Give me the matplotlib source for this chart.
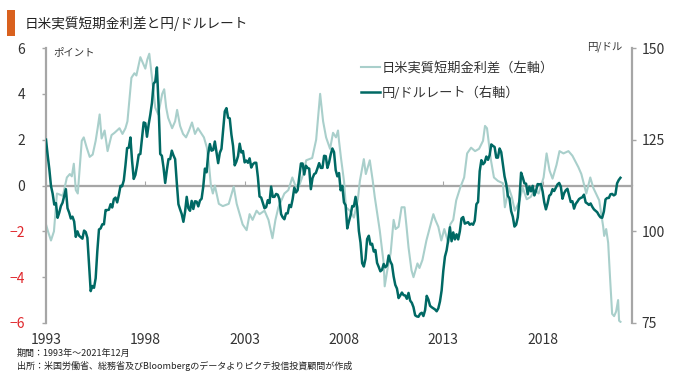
import numpy as np
import matplotlib
matplotlib.use("Agg")
import matplotlib.pyplot as plt
from matplotlib.patches import Rectangle

plt.rcParams['font.family'] = ['Noto Sans CJK JP', 'DejaVu Sans']

# ---------------- data ----------------
# USD/JPY monthly (Jan 1993 - Dec 2021), right axis
usdjpy = [
    125.0, 120.8, 117.0, 112.4, 110.3, 107.3, 107.7, 103.7, 105.1, 106.9, 107.8, 109.7,
    111.5, 106.3, 105.1, 103.5, 104.0, 102.7, 98.5, 100.0, 98.8, 98.4, 98.0, 100.2,
    99.8, 98.2, 90.8, 83.7, 85.1, 84.6, 87.2, 94.6, 100.5, 100.8, 101.9, 101.9,
    105.8, 105.8, 105.9, 107.4, 106.5, 108.8, 109.2, 107.9, 109.9, 112.4, 112.3, 113.9,
    118.0, 122.7, 122.8, 125.6, 119.2, 114.3, 115.4, 117.9, 120.9, 121.1, 125.4, 129.7,
    129.5, 125.8, 129.1, 131.8, 135.0, 140.3, 140.8, 144.7, 134.5, 121.1, 120.6, 117.4,
    113.2, 116.7, 119.7, 119.7, 122.0, 120.7, 119.7, 113.3, 107.4, 106.0, 104.7, 102.6,
    105.3, 109.4, 106.3, 105.6, 108.3, 106.1, 108.2, 108.1, 106.8, 108.4, 108.9, 112.2,
    117.1, 116.1, 121.2, 123.8, 122.0, 122.2, 124.5, 121.6, 118.6, 121.4, 122.5, 127.6,
    132.7, 133.6, 131.0, 130.8, 126.4, 123.3, 118.0, 119.0, 120.5, 123.9, 121.5, 121.9,
    118.8, 119.3, 118.7, 119.9, 117.4, 118.3, 118.7, 118.7, 114.8, 109.5, 109.2, 107.7,
    106.3, 106.6, 108.5, 107.7, 112.2, 109.4, 109.4, 110.2, 110.0, 108.8, 104.7, 103.8,
    103.3, 104.9, 104.9, 107.2, 106.6, 108.8, 111.9, 110.6, 111.2, 114.9, 118.5, 118.5,
    115.5, 117.9, 117.3, 117.1, 111.5, 114.5, 115.6, 115.9, 117.2, 118.6, 117.3, 117.3,
    120.6, 120.5, 117.3, 118.8, 121.0, 122.6, 121.6, 116.7, 115.0, 115.9, 111.2, 112.4,
    107.9, 107.1, 100.8, 102.7, 104.4, 106.9, 106.8, 109.4, 106.6, 100.1, 96.9, 91.3,
    90.4, 92.5, 97.9, 98.8, 96.4, 96.6, 94.5, 94.9, 91.4, 90.3, 89.1, 89.5,
    91.1, 90.2, 90.7, 93.4, 91.8, 90.9, 87.7, 85.4, 84.4, 81.8, 82.5, 83.3,
    82.6, 82.5, 81.6, 83.2, 81.1, 80.5, 79.3, 77.1, 76.8, 76.7, 77.5, 77.8,
    76.9, 78.5, 82.4, 81.4, 79.7, 79.3, 79.0, 78.7, 78.2, 79.0, 80.9, 83.9,
    89.2, 93.1, 94.8, 97.7, 101.1, 97.3, 99.7, 97.8, 99.2, 97.8, 100.0, 103.5,
    103.9, 102.1, 102.3, 102.5, 101.8, 102.1, 101.8, 102.9, 107.4, 108.0, 116.4, 119.4,
    118.3, 118.8, 120.4, 119.5, 120.8, 123.7, 123.3, 123.0, 120.1, 120.1, 122.6, 121.6,
    118.2, 115.0, 113.0, 109.7, 109.0, 105.5, 104.0, 101.3, 101.8, 103.8, 108.7, 116.0,
    114.7, 113.1, 113.0, 110.1, 112.2, 110.9, 112.4, 109.8, 111.0, 112.9, 112.8, 112.9,
    110.9, 107.9, 106.0, 107.6, 109.7, 110.1, 111.5, 111.0, 111.9, 112.8, 113.2, 112.2,
    108.9, 110.4, 111.2, 111.6, 109.8, 108.0, 108.2, 106.2, 107.5, 108.1, 108.8, 109.1,
    109.3, 110.0, 107.9, 107.6, 107.2, 107.6, 106.7, 106.0, 105.6, 105.2, 104.4, 103.8,
    103.7, 105.4, 108.7, 109.1, 109.1, 110.1, 110.2, 109.8, 110.1, 113.1, 114.0, 114.6,
]
usdjpy_start_year = 1993

spread_t = [
    1993.0, 1993.1, 1993.25, 1993.4, 1993.55, 1993.7, 1993.85, 1994.05, 1994.2, 1994.3,
    1994.4, 1994.5, 1994.6, 1994.8, 1994.9, 1995.05, 1995.2, 1995.35, 1995.5, 1995.6,
    1995.7, 1995.8, 1995.95, 1996.1, 1996.3, 1996.45, 1996.7, 1996.85, 1997.0, 1997.1,
    1997.3, 1997.45, 1997.55, 1997.75, 1997.85, 1998.0, 1998.1, 1998.2, 1998.35, 1998.5,
    1998.65, 1998.85, 1998.95, 1999.05, 1999.15, 1999.35, 1999.5, 1999.6, 1999.75, 1999.9,
    2000.05, 2000.2, 2000.35, 2000.5, 2000.65, 2000.8, 2000.95, 2001.1, 2001.2, 2001.3,
    2001.4, 2001.5, 2001.7, 2001.9, 2002.2, 2002.45, 2002.6, 2002.75, 2002.9, 2003.1,
    2003.25, 2003.4, 2003.6, 2003.75, 2004.0, 2004.2, 2004.4, 2004.55, 2004.7, 2005.0,
    2005.2, 2005.4, 2005.55, 2005.75, 2005.95, 2006.1, 2006.4, 2006.6, 2006.8, 2006.95,
    2007.1, 2007.3, 2007.45, 2007.6, 2007.7, 2007.75, 2007.85, 2008.0, 2008.1, 2008.3,
    2008.5, 2008.7, 2008.8, 2009.0, 2009.1, 2009.3, 2009.45, 2009.55, 2009.8, 2010.0,
    2010.05, 2010.2, 2010.35, 2010.5, 2010.6, 2010.75, 2010.9, 2011.05, 2011.15, 2011.25,
    2011.4, 2011.5, 2011.7, 2011.8, 2011.95, 2012.15, 2012.3, 2012.5, 2012.6, 2012.75,
    2012.9, 2013.05, 2013.25, 2013.35, 2013.5, 2013.65, 2013.85, 2014.05, 2014.2, 2014.4,
    2014.6, 2014.8, 2015.0, 2015.1, 2015.2, 2015.4, 2015.55, 2015.75, 2016.0, 2016.1,
    2016.3, 2016.45, 2016.6, 2016.8, 2017.0, 2017.2, 2017.4, 2017.6, 2017.8, 2018.05,
    2018.2, 2018.35, 2018.5, 2018.7, 2018.85, 2019.05, 2019.3, 2019.5, 2019.8, 2019.95,
    2020.2, 2020.4, 2020.55, 2020.85, 2021.05, 2021.1, 2021.2, 2021.3, 2021.4, 2021.5,
    2021.6, 2021.7, 2021.8, 2021.85, 2021.92,
]
spread_v = [
    -1.7, -2.0, -2.4, -2.0, -0.35, -0.4, -0.45, 0.35, 0.5, 0.4,
    0.95, -0.2, -0.35, 1.95, 2.1, 1.65, 1.25, 1.35, 1.95, 2.5,
    3.1, 2.05, 2.4, 1.5, 2.2, 2.3, 2.5, 2.25, 2.5, 2.8,
    4.7, 4.9, 4.8, 5.6, 5.4, 5.1, 5.5, 5.75, 4.6, 3.4,
    3.1, 4.0, 4.2, 3.4, 2.95, 2.5, 2.8, 3.3, 2.6, 2.25,
    2.1, 2.4, 2.75, 2.25, 2.5, 2.3, 2.1, 1.65, 0.95, 0.0,
    -0.35, 0.0, -0.8, -0.9, -0.8, -0.05, -0.8, -1.25, -1.7, -1.95,
    -1.25, -1.5, -1.1, -1.25, -1.1, -1.5, -2.3, -1.5, -0.95, -0.35,
    -0.2, 0.35, 0.0, 0.0, 0.5, 1.1, 1.2, 2.0, 4.0, 2.8,
    2.1, 1.6, 2.3, 2.1, 2.4, 1.95, 1.2, 0.2, -0.95, -1.1,
    -1.4, -0.6, 0.2, 1.15, 0.5, 1.1, 0.2, -0.5, -1.95, -3.4,
    -4.4, -3.6, -2.95, -1.5, -1.9, -1.8, -0.95, -0.95, -1.8, -2.7,
    -3.7, -4.0, -3.4, -3.6, -3.25, -2.4, -1.9, -1.25, -1.5, -1.8,
    -2.4, -1.9, -2.5, -1.7, -1.5, -0.65, -0.1, 0.35, 1.4, 1.65,
    1.5, 1.6, 1.95, 2.6, 2.5, 1.1, 0.35, 0.2, 0.1, -0.95,
    -0.1, -0.5, -1.1, -0.75, -0.1, -0.6, -0.5, -0.2, -0.35, 0.35,
    1.4, 0.65, 0.3, 0.9, 1.5, 1.4, 1.5, 1.3, 0.8, 0.5,
    -0.35, 0.35, -0.1, -0.65, -1.8, -2.2, -1.9, -2.5, -4.1, -5.6,
    -5.7, -5.5, -5.0, -5.9, -5.95,
]

left_ticks = [-6, -4, -2, 0, 2, 4, 6]
left_labels = ['\u22126', '\u22124', '\u22122', '0', '2', '4', '6']
right_ticks = [75, 100, 125, 150]
right_labels = ['75', '100', '125', '150']
x_ticks = [1993, 1998, 2003, 2008, 2013, 2018]
x_labels = ['1993', '1998', '2003', '2008', '2013', '2018']

title = '日米実質短期金利差と円/ドルレート'
legend_labels = ['日米実質短期金利差（左軸）', '円/ドルレート（右軸）']
note1 = '期間：1993年～2021年12月'
note2 = '出所：米国労働省、総務省及びBloombergのデータよりピクテ投信投資顧問が作成'

# ---------------- style ----------------
LIGHT = '#A9CFCB'
DARK = '#006964'
SPINE = '#A6A6A6'
TXT = '#333333'
RED = '#E0262B'

fig = plt.figure(figsize=(6.8, 3.76), dpi=100)
ax = fig.add_axes([46/680, 1-323/376, (632-46)/680, (323-48)/376])
ax2 = ax.twinx()

yen_x = usdjpy_start_year + np.arange(len(usdjpy)) / 12.0

ax.axhline(0, color=SPINE, lw=0.9, zorder=1)
l1, = ax.plot(spread_t, spread_v, color=LIGHT, lw=1.5, zorder=2)
l2, = ax2.plot(yen_x, usdjpy, color=DARK, lw=1.8, zorder=3)

ax.set_xlim(1993, 2022.5)
ax.set_ylim(-6, 6)
ax2.set_ylim(75, 150)

for a in (ax, ax2):
    for s in ('top', 'bottom'):
        a.spines[s].set_visible(False)
ax.spines['right'].set_visible(False)
ax2.spines['left'].set_visible(False)
ax.spines['left'].set_color(SPINE)
ax.spines['left'].set_linewidth(1.6)
ax2.spines['right'].set_color(SPINE)
ax2.spines['right'].set_linewidth(1.6)

ax.set_yticks(left_ticks)
ax.set_yticklabels(left_labels)
ax.yaxis.set_tick_params(direction='out', length=3, width=1, color=SPINE, pad=12, labelsize=10)
for lab, v in zip(ax.get_yticklabels(), left_ticks):
    lab.set_color(RED if v < 0 else TXT)

ax2.set_yticks(right_ticks)
ax2.set_yticklabels(right_labels)
ax2.yaxis.set_tick_params(direction='out', length=3, width=1, color=SPINE, pad=4, labelsize=10, labelcolor=TXT)

ax.set_xticks(x_ticks)
ax.set_xticklabels(x_labels)
ax.xaxis.set_tick_params(length=0, pad=7, labelsize=10, labelcolor=TXT)

# small tick marks on the zero line
sec = ax.secondary_xaxis(0.5)
sec.set_xticks(x_ticks)
sec.set_xticklabels([])
sec.tick_params(axis='x', direction='out', length=3, width=0.8, color=SPINE)
for sp in sec.spines.values():
    sp.set_color(SPINE)
    sp.set_linewidth(0.9)

# unit labels
fig.text(53/680, 1-52/376, 'ポイント', fontsize=7.5, color=TXT, va='center', ha='left')
fig.text(622/680, 1-47/376, '円/ドル', fontsize=7.5, color=TXT, va='center', ha='right')

# legend
ax2.legend([l1, l2], legend_labels, loc='upper left', bbox_to_anchor=(354/680, 1-55/376),
           bbox_transform=fig.transFigure, frameon=False, fontsize=9.5,
           handlelength=1.5, handletextpad=0.1, labelspacing=0.9, borderpad=0,
           labelcolor=TXT)

# title
fig.patches.append(Rectangle((7/680, 1-36/376), 8/680, 26/376, transform=fig.transFigure,
                             facecolor='#D9611E', edgecolor='none'))
fig.text(25/680, 1-24/376, title, fontsize=9.8, color='#222222', va='center', ha='left')

# notes
fig.text(17/680, 1-353/376, note1, fontsize=6.5, color='#222222', va='center', ha='left')
fig.text(17/680, 1-366/376, note2, fontsize=6.5, color='#222222', va='center', ha='left')

fig.savefig('out.png', dpi=100)
